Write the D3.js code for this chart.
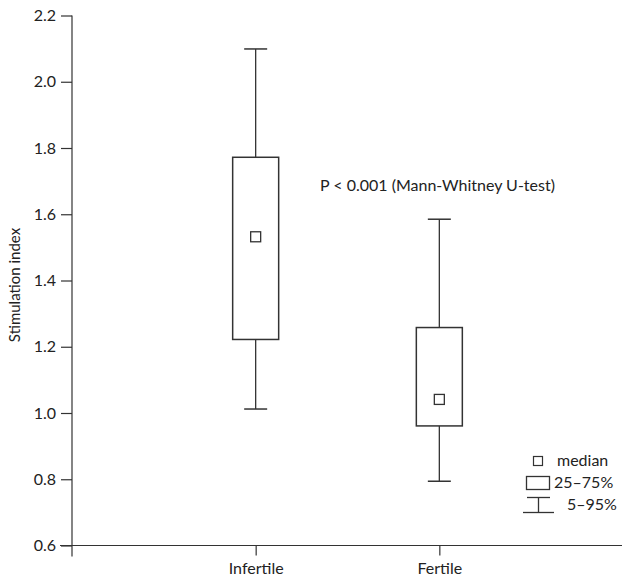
<!DOCTYPE html>
<html lang="en">
<head>
  <meta charset="UTF-8">
  <title>Stimulation index</title>
  <style>
    body { margin: 0; padding: 0; background: #fff; }
    svg { display: block; }
    text { font-family: Lato, "Open Sans", sans-serif; fill: #222; }
  </style>
</head>
<body>
<svg width="622" height="580"></svg>
<script src="https://d3js.org/d3.v7.min.js"></script>
<script>
// box plot values
const groups   = ["Infertile", "Fertile"];
const p05      = [1.012, 0.794];
const p25      = [1.222, 0.961];
const medians  = [1.532, 1.041];
const p75      = [1.772, 1.258];
const p95      = [2.099, 1.585];
const yTicks   = [0.6, 0.8, 1.0, 1.2, 1.4, 1.6, 1.8, 2.0, 2.2];

const svg = d3.select("svg");
const ink = "#333";

const y = d3.scaleLinear().domain([0.6, 2.2]).range([545.5, 15.5]);
const x = d3.scalePoint().domain(groups).range([72, 623]).padding(1);

const boxW = 46, capW = 23, medS = 10;

// y axis
const yAxis = svg.append("g")
  .attr("transform", "translate(72,0)")
  .call(d3.axisLeft(y).tickValues(yTicks).tickFormat(d3.format(".1f")).tickSize(11).tickPadding(5));
yAxis.select(".domain").remove();
yAxis.append("line").attr("x1", 0).attr("x2", 0).attr("y1", 15.5).attr("y2", 556.5)
  .attr("stroke", ink).attr("stroke-width", 1.2);
yAxis.selectAll(".tick line").attr("stroke", ink).attr("stroke-width", 1.2);
yAxis.selectAll(".tick text").attr("font-size", 16).attr("fill", "#222");

// x axis
const xAxis = svg.append("g")
  .attr("transform", "translate(0,545.5)")
  .call(d3.axisBottom(x).tickSize(10).tickPadding(7));
xAxis.select(".domain").remove();
xAxis.append("line").attr("x1", 60).attr("x2", 622).attr("y1", 0).attr("y2", 0)
  .attr("stroke", ink).attr("stroke-width", 1.2);
xAxis.selectAll(".tick line").attr("stroke", ink).attr("stroke-width", 1.2);
xAxis.selectAll(".tick text").attr("font-size", 16).attr("fill", "#222");

svg.append("text")
  .attr("transform", "translate(20,285) rotate(-90)")
  .attr("text-anchor", "middle")
  .attr("font-size", 15)
  .text("Stimulation index");

// boxes
const g = svg.selectAll("g.box")
  .data(groups)
  .join("g")
  .attr("class", "box");

g.append("line")
  .attr("x1", d => x(d)).attr("x2", d => x(d))
  .attr("y1", (d, i) => y(p95[i])).attr("y2", (d, i) => y(p75[i]))
  .attr("stroke", ink).attr("stroke-width", 1.3);
g.append("line")
  .attr("x1", d => x(d)).attr("x2", d => x(d))
  .attr("y1", (d, i) => y(p25[i])).attr("y2", (d, i) => y(p05[i]))
  .attr("stroke", ink).attr("stroke-width", 1.3);
g.append("line")
  .attr("x1", d => x(d) - capW / 2).attr("x2", d => x(d) + capW / 2)
  .attr("y1", (d, i) => y(p95[i])).attr("y2", (d, i) => y(p95[i]))
  .attr("stroke", ink).attr("stroke-width", 1.5);
g.append("line")
  .attr("x1", d => x(d) - capW / 2).attr("x2", d => x(d) + capW / 2)
  .attr("y1", (d, i) => y(p05[i])).attr("y2", (d, i) => y(p05[i]))
  .attr("stroke", ink).attr("stroke-width", 1.5);
g.append("rect")
  .attr("x", d => x(d) - boxW / 2).attr("width", boxW)
  .attr("y", (d, i) => y(p75[i])).attr("height", (d, i) => y(p25[i]) - y(p75[i]))
  .attr("fill", "none").attr("stroke", ink).attr("stroke-width", 1.5);
g.append("rect")
  .attr("x", d => x(d) - medS / 2).attr("width", medS)
  .attr("y", (d, i) => y(medians[i]) - medS / 2).attr("height", medS)
  .attr("fill", "#fff").attr("stroke", ink).attr("stroke-width", 1.3);

svg.append("text")
  .attr("x", 320).attr("y", 191)
  .attr("font-size", 16)
  .text("P < 0.001 (Mann-Whitney U-test)");

// legend
const lg = svg.append("g");
lg.append("rect").attr("x", 533.5).attr("y", 456.5).attr("width", 9).attr("height", 9)
  .attr("fill", "none").attr("stroke", ink).attr("stroke-width", 1.2);
lg.append("text").attr("x", 557).attr("y", 460).attr("dy", "0.35em").attr("font-size", 16).text("median");
lg.append("rect").attr("x", 526.5).attr("y", 476.5).attr("width", 23).attr("height", 13)
  .attr("fill", "none").attr("stroke", ink).attr("stroke-width", 1.3);
lg.append("text").attr("x", 554).attr("y", 482).attr("dy", "0.35em").attr("font-size", 16).text("25–75%");
lg.append("line").attr("x1", 527).attr("x2", 550).attr("y1", 497.5).attr("y2", 497.5)
  .attr("stroke", ink).attr("stroke-width", 1.3);
lg.append("line").attr("x1", 538.5).attr("x2", 538.5).attr("y1", 497.5).attr("y2", 512.5)
  .attr("stroke", ink).attr("stroke-width", 1.3);
lg.append("line").attr("x1", 523).attr("x2", 554).attr("y1", 512.5).attr("y2", 512.5)
  .attr("stroke", ink).attr("stroke-width", 1.3);
lg.append("text").attr("x", 567).attr("y", 504).attr("dy", "0.35em").attr("font-size", 16).text("5–95%");
</script>
</body>
</html>
